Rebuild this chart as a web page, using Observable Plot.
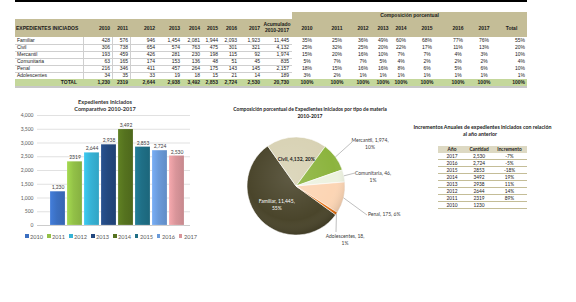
<!DOCTYPE html>
<html><head><meta charset="utf-8">
<script src="https://cdn.jsdelivr.net/npm/d3@7"></script>
<script src="https://cdn.jsdelivr.net/npm/@observablehq/plot@0.6"></script>
<style>
body{margin:0;background:#fff;}
#root{position:relative;width:576px;height:302px;overflow:hidden;background:#fff;font-family:"Liberation Sans",Arial,sans-serif;color:#1a1a1a;}
.abs{position:absolute;white-space:nowrap;box-sizing:border-box;}
</style></head><body><div id="root"></div>
<script>
// ---------- DATA ----------
const materias = ["Familiar","Civil","Mercantil","Comunitaria","Penal","Adolescentes"];
const years = ["2010","2011","2012","2013","2014","2015","2016","2017"];
const familiar     = [428, 576, 946, 1454, 2081, 1944, 2093, 1923];
const civil        = [306, 738, 654, 574, 763, 475, 301, 321];
const mercantil    = [193, 459, 426, 281, 230, 198, 115, 92];
const comunitaria  = [63, 165, 174, 153, 136, 48, 51, 45];
const penal        = [216, 346, 411, 457, 264, 175, 143, 145];
const adolescentes = [34, 35, 33, 19, 18, 15, 21, 14];
const acumulado    = [11445, 4132, 1974, 835, 2157, 189];
const totals       = [1230, 2319, 2644, 2938, 3492, 2853, 2724, 2530];
const totalLabels  = ["1,230","2319","2,644","2,938","3,492","2,853","2,724","2,530"];
const totalAcumLabel = "20,730";
const pctFamiliar     = [35, 25, 36, 49, 60, 68, 77, 76, 55];
const pctCivil        = [25, 32, 25, 20, 22, 17, 11, 13, 20];
const pctMercantil    = [15, 20, 16, 10, 7, 7, 4, 3, 10];
const pctComunitaria  = [5, 7, 7, 5, 4, 2, 2, 2, 4];
const pctPenal        = [18, 15, 16, 16, 8, 6, 5, 6, 10];
const pctAdolescentes = [3, 2, 1, 1, 1, 1, 1, 1, 1];
const pctTotal        = [100, 100, 100, 100, 100, 100, 100, 100, 100];
const pieLabels = ["Familiar, 11,445,\n55%","Civil, 4,132, 20%","Mercantil, 1,974,\n10%","Comunitaria, 46,\n1%","Penal, 175, 6%","Adolescentes, 18,\n1%"];
const incYears    = ["2017","2016","2015","2014","2013","2012","2011","2010"];
const incCantidad = ["2,530","2,724","2853","3492","2938","2644","2319","1230"];
const incPct      = ["-7%","-5%","-18%","19%","11%","14%","89%",""];

// ---------- STYLE / LAYOUT ----------
const barColors = ["#3b6fc1","#92c047","#36b3d6","#23487f","#55721f","#1f6f86","#6a9ad9","#d9959a"];
const pieColors = ["#4a452b","#d8d2b4","#8cb43e","#edf2e0","#fcd5b4","#e46c0a"];
const TAN = "#c4bd97", GREEN = "#c4d79b";
const root = document.getElementById("root");
function box(x,y,w,h,style){const d=document.createElement("div");d.className="abs";Object.assign(d.style,{left:x+"px",top:y+"px",width:w+"px",height:h+"px"},style||{});root.appendChild(d);return d;}
function txt(s,x,y,w,h,align,style){const d=box(x,y,w,h,Object.assign({lineHeight:h+"px",textAlign:align||"left",fontSize:"5px"},style||{}));d.textContent=s;return d;}
const fmt = d3.format(",");

// top black rule
box(15,0,512,2,{background:"#000"});

// ---------- MAIN TABLE ----------
const leftEdges  = [83,112,130,157,182,202,220,239,262,292];
const rightEdges = [292,322,352,374,392,410,444,472,496,527];
const rowTop = 37, rowH = 7;
box(15,19,277,18,{background:TAN});
box(292,12,235,25,{background:TAN});
txt("EXPEDIENTES INICIADOS",16,23,67,10,"left",{fontWeight:"bold"});
years.forEach((y,i)=>txt(y,leftEdges[i],23,leftEdges[i+1]-leftEdges[i]-2,10,"right",{fontWeight:"bold"}));
txt("Acumulado",262,21,30,6,"center",{fontWeight:"bold"});
txt("2010-2017",262,27,30,6,"center",{fontWeight:"bold"});
txt("Composición porcentual",292,12,235,7,"center",{fontWeight:"bold"});
years.concat(["Total"]).forEach((y,i)=>txt(y,rightEdges[i],23,rightEdges[i+1]-rightEdges[i],10,"center",{fontWeight:"bold"}));

const rowsAbs = [familiar,civil,mercantil,comunitaria,penal,adolescentes];
const rowsPct = [pctFamiliar,pctCivil,pctMercantil,pctComunitaria,pctPenal,pctAdolescentes];
materias.forEach((m,r)=>{
  const y = rowTop + r*rowH;
  box(15,y+rowH-0.5,277,0.6,{background:"#cfcfcf"});
  txt(m,17,y,66,rowH,"left");
  rowsAbs[r].forEach((v,i)=>txt(fmt(v),leftEdges[i],y,leftEdges[i+1]-leftEdges[i]-2,rowH,"right"));
  txt(fmt(acumulado[r]),262,y,27,rowH,"right");
  rowsPct[r].forEach((v,i)=>{
    if(i<8) txt(v+"%",rightEdges[i],y,rightEdges[i+1]-rightEdges[i],rowH,"center");
    else txt(v+"%",rightEdges[i],y,rightEdges[i+1]-rightEdges[i]-2,rowH,"right");
  });
});
[83,112,130].forEach(x=>box(x,rowTop,0.6,6*rowH,{background:"#cfcfcf"}));
const totY = rowTop + 6*rowH;
box(15,totY,512,rowH,{background:GREEN});
box(15,totY+rowH,512,1.5,{background:"#c8c8c8"});
txt("TOTAL",15,totY,62,rowH,"right",{fontWeight:"bold"});
totalLabels.forEach((v,i)=>txt(v,leftEdges[i],totY,leftEdges[i+1]-leftEdges[i]-2,rowH,"right",{fontWeight:"bold"}));
txt(totalAcumLabel,262,totY,27,rowH,"right",{fontWeight:"bold"});
pctTotal.forEach((v,i)=>txt(v+"%",rightEdges[i],totY,rightEdges[i+1]-rightEdges[i]-(i<8?0:2),rowH,i<8?"center":"right",{fontWeight:"bold"}));

// ---------- BAR CHART ----------
const LATO = "Lato, 'Open Sans', sans-serif";
txt("Expedientes Iniciados",5,98,200,7,"center",{fontFamily:LATO,fontWeight:"bold",fontSize:"5.6px",color:"#333"});
txt("Comparativo 2010-2017",5,105,200,7,"center",{fontFamily:LATO,fontWeight:"bold",fontSize:"5.6px",color:"#333"});
const barData = years.map((y,i)=>({year:y,value:totals[i],label:totalLabels[i]}));
const gradDefs = (index, scales, values, dims, context) => {
  const svgNS = "http://www.w3.org/2000/svg";
  const defs = d3.select(context.document.createElementNS(svgNS,"defs"));
  barColors.forEach((c,i)=>{
    const lg = defs.append("linearGradient").attr("id","bg"+i).attr("x1",0).attr("x2",1).attr("y1",0).attr("y2",0);
    const base = d3.color(c);
    lg.append("stop").attr("offset","0%").attr("stop-color",base.brighter(0.35).formatHex());
    lg.append("stop").attr("offset","45%").attr("stop-color",c);
    lg.append("stop").attr("offset","100%").attr("stop-color",base.darker(0.25).formatHex());
  });
  return defs.node();
};
const barChart = Plot.plot({
  width:200, height:120, marginTop:3, marginBottom:7, marginLeft:37, marginRight:10,
  style:{fontFamily:LATO, background:"transparent", color:"#595959"},
  x:{type:"band", domain:years, range:[47.5,187.5], paddingInner:0.1, paddingOuter:0.05, axis:null},
  y:{domain:[0,4000]},
  color:{type:"ordinal", domain:years, range:barColors.map((c,i)=>`url(#bg${i})`)},
  marks:[
    gradDefs,
    Plot.gridY(d3.range(500,4001,500),{stroke:"#d9d9d9",strokeOpacity:1,strokeWidth:0.8}),
    Plot.ruleY([0],{stroke:"#bfbfbf",strokeWidth:0.8}),
    Plot.axisY(d3.range(0,4001,500),{tickFormat:d3.format(","),tickSize:0,tickPadding:4,fontSize:5,fill:"#595959",label:null}),
    Plot.barY(barData,{x:"year",y:"value",fill:"year",stroke:"#ffffff",strokeOpacity:0.35,strokeWidth:0.5}),
    Plot.text(barData,{x:"year",y:"value",text:"label",dy:-4,fontSize:5,fill:"#404040"})
  ]
});
const barWrap = box(0,112,200,120); barWrap.appendChild(barChart);
// legend
const leg = box(0,232,222,8,{display:"flex",justifyContent:"center",alignItems:"center",gap:"4px",fontFamily:LATO,fontSize:"5.6px",color:"#595959"});
years.forEach((y,i)=>{const it=document.createElement("span");it.style.display="flex";it.style.alignItems="center";it.style.gap="1.5px";
  const sw=document.createElement("span");Object.assign(sw.style,{display:"inline-block",width:"3.5px",height:"3.5px",background:barColors[i]});
  it.appendChild(sw);it.appendChild(document.createTextNode(y));leg.appendChild(it);});

// ---------- PIE CHART ----------
txt("Composición porcentual de Expedientes iniciados por tipo de materia",200,106,220,7,"center",{fontFamily:LATO,fontWeight:"bold",fontSize:"5px",color:"#222"});
txt("2010-2017",200,113,220,7,"center",{fontFamily:LATO,fontWeight:"bold",fontSize:"5px",color:"#222"});
const pieLeft = 200, pieTop = 120, pieW = 220, pieH = 140;
const pieCx = 96, pieCy = 66, pieR = 49;
const startDeg = 126;
const labelLayout = [null, null,
  {tx:170, ty:20, lx:152, ly:22},
  {tx:173, ty:53, lx:155, ly:53},
  {tx:168, ty:94, lx:167, ly:95, start:true},
  {tx:145, ty:116, lx:136, ly:112}];
const pieChart = Plot.plot({
  width:pieW, height:pieH, margin:0,
  x:{domain:[0,pieW], range:[0,pieW], axis:null},
  y:{domain:[0,pieH], range:[0,pieH], axis:null},
  style:{fontFamily:LATO, background:"transparent"},
  marks:[
    (index, scales, values, dims, context) => {
      const svgNS = "http://www.w3.org/2000/svg";
      const g = d3.select(context.document.createElementNS(svgNS,"g"));
      const color = d3.scaleOrdinal(materias, pieColors);
      const arcs = d3.pie().sort(null).startAngle(startDeg*Math.PI/180).endAngle(startDeg*Math.PI/180+2*Math.PI)(acumulado);
      const arc = d3.arc().innerRadius(0).outerRadius(pieR);
      const defs = g.append("defs");
      const rg = defs.append("radialGradient").attr("id","pieShade").attr("cx","45%").attr("cy","40%").attr("r","60%");
      rg.append("stop").attr("offset","0%").attr("stop-color","#fff").attr("stop-opacity",0.12);
      rg.append("stop").attr("offset","75%").attr("stop-color","#fff").attr("stop-opacity",0);
      rg.append("stop").attr("offset","100%").attr("stop-color","#000").attr("stop-opacity",0.12);
      const gp = g.append("g").attr("transform",`translate(${pieCx},${pieCy})`);
      gp.selectAll("path").data(arcs).join("path")
        .attr("d",arc).attr("fill",(d,i)=>color(materias[i])).attr("stroke","#fff").attr("stroke-width",0.6);
      gp.append("circle").attr("r",pieR).attr("fill","url(#pieShade)").attr("pointer-events","none");
      arcs.forEach((a,i)=>{
        const mid=(a.startAngle+a.endAngle)/2;
        const lines = pieLabels[i].split("\n");
        if(labelLayout[i]===null){
          const rr = pieR*0.55;
          const px = pieCx+Math.sin(mid)*rr, py = pieCy-Math.cos(mid)*rr;
          const t = g.append("text").attr("text-anchor","middle").attr("font-size",5)
            .attr("fill", i===0?"#fff":"#1a1a1a").attr("font-weight", i===1?"bold":"normal");
          lines.forEach((l,k)=>t.append("tspan").attr("x",px).attr("y",py+(k-(lines.length-1)/2)*7+1.8).text(l));
        } else {
          const L = labelLayout[i];
          const ox = pieCx+Math.sin(mid)*pieR, oy = pieCy-Math.cos(mid)*pieR;
          g.append("line").attr("x1",ox).attr("y1",oy).attr("x2",L.lx).attr("y2",L.ly).attr("stroke","#7f7f7f").attr("stroke-width",0.5);
          const t = g.append("text").attr("font-size",5).attr("fill","#404040").attr("text-anchor",L.start?"start":"middle");
          lines.forEach((l,k)=>t.append("tspan").attr("x",L.tx).attr("y",L.ty+k*7+1.8).text(l));
        }
      });
      return g.node();
    }
  ]
});
const pieWrap = box(pieLeft,pieTop,pieW,pieH); pieWrap.appendChild(pieChart);

// ---------- INCREMENT TABLE ----------
const titleStyle = {position:"absolute",whiteSpace:"nowrap",height:"7px",lineHeight:"7px",fontSize:"5.3px",fontFamily:LATO,fontWeight:"bold",color:"#222"};
const probe = document.createElement("span"); Object.assign(probe.style,titleStyle,{visibility:"hidden"}); probe.textContent="I"; root.appendChild(probe);
const iw = probe.getBoundingClientRect().width; probe.remove();
const t1 = document.createElement("div"); Object.assign(t1.style,titleStyle,{left:(415-iw)+"px",top:"124px"});
t1.textContent = "Incrementos Anuales de expedientes iniciados con relación"; root.appendChild(t1);
const t2 = document.createElement("div"); Object.assign(t2.style,titleStyle,{left:"430px",width:"100px",textAlign:"center",top:"131px"});
t2.textContent = "al año anterior"; root.appendChild(t2);
const incCols = [438,466,492,527];
const incTop = 146;
box(438,incTop,89,7,{background:"#ddd9c3"});
["Año","Cantidad","Incremento"].forEach((h,i)=>txt(h,incCols[i],incTop,incCols[i+1]-incCols[i],7,"center",{fontFamily:LATO,fontWeight:"bold",fontSize:"4.8px"}));
incYears.forEach((y,r)=>{
  const yy = incTop+7+r*7;
  box(438,yy+6.4,89,0.6,{background:TAN});
  [y,incCantidad[r],incPct[r]].forEach((s,i)=>txt(s,incCols[i],yy,incCols[i+1]-incCols[i],7,"center",{fontFamily:LATO,fontSize:"4.8px"}));
});
</script></body></html>
